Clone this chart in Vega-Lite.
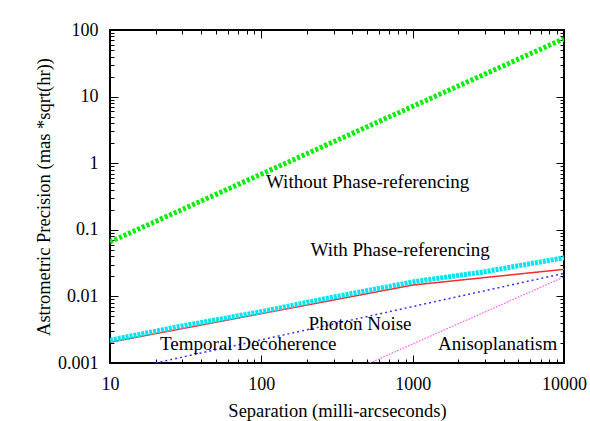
{
  "$schema": "https://vega.github.io/schema/vega-lite/v6.json",
  "width": 454,
  "height": 333,
  "autosize": {"type": "none"},
  "padding": {"left": 110, "top": 30, "right": 26, "bottom": 58},
  "background": "white",
  "config": {
    "view": {"stroke": "black", "strokeWidth": 2},
    "font": "Liberation Serif",
    "axis": {
      "domain": false,
      "grid": false,
      "labelFlush": false,
      "tickColor": "black",
      "tickWidth": 1,
      "labelFont": "Liberation Serif",
      "labelFontSize": 18,
      "labelColor": "black",
      "titleFont": "Liberation Serif",
      "titleFontSize": 18.5,
      "titleFontWeight": "normal",
      "titleColor": "black"
    }
  },
  "datasets": {
    "lines": [
      {"series": "Without", "x": 10, "y": 0.066},
      {"series": "Without", "x": 10000, "y": 74},
      {"series": "Temporal", "x": 10, "y": 0.00205},
      {"series": "Temporal", "x": 1000, "y": 0.0148},
      {"series": "Temporal", "x": 10000, "y": 0.0255},
      {"series": "Photon", "x": 20, "y": 0.001},
      {"series": "Photon", "x": 10000, "y": 0.0222},
      {"series": "Aniso", "x": 520, "y": 0.001},
      {"series": "Aniso", "x": 10000, "y": 0.0196},
      {"series": "With", "x": 10, "y": 0.0022},
      {"series": "With", "x": 30, "y": 0.0036},
      {"series": "With", "x": 100, "y": 0.0059},
      {"series": "With", "x": 300, "y": 0.0098},
      {"series": "With", "x": 1000, "y": 0.0165},
      {"series": "With", "x": 3000, "y": 0.0235},
      {"series": "With", "x": 10000, "y": 0.038}
    ],
    "labels": [
      {"text": "Without Phase-referencing", "x": 504, "y": 0.52},
      {"text": "With Phase-referencing", "x": 826, "y": 0.05},
      {"text": "Photon Noise", "x": 449, "y": 0.0039},
      {"text": "Temporal Decoherence", "x": 82, "y": 0.00193},
      {"text": "Anisoplanatism", "x": 3640, "y": 0.00193}
    ]
  },
  "layer": [
    {
      "data": {"name": "lines"},
      "mark": {"type": "line", "clip": true},
      "encoding": {
        "x": {
          "field": "x", "type": "quantitative",
          "scale": {"type": "log", "domain": [10, 10000]},
          "axis": {
            "values": [10,20,30,40,50,60,70,80,90,100,200,300,400,500,600,700,800,900,1000,2000,3000,4000,5000,6000,7000,8000,9000,10000],
            "labelExpr": "abs(log(datum.value)/LN10 - round(log(datum.value)/LN10)) < 0.000001 ? format(datum.value, '~g') : ''",
            "tickSize": {"condition": {"test": "abs(log(datum.value)/LN10 - round(log(datum.value)/LN10)) < 0.000001", "value": -8}, "value": -4},
            "labelPadding": 20,
            "title": "Separation (milli-arcseconds)",
            "titlePadding": 8
          }
        },
        "y": {
          "field": "y", "type": "quantitative",
          "scale": {"type": "log", "domain": [0.001, 100]},
          "axis": {
            "values": [0.001,0.002,0.003,0.004,0.005,0.006,0.007,0.008,0.009,0.01,0.02,0.03,0.04,0.05,0.06,0.07,0.08,0.09,0.1,0.2,0.3,0.4,0.5,0.6,0.7,0.8,0.9,1,2,3,4,5,6,7,8,9,10,20,30,40,50,60,70,80,90,100],
            "labelExpr": "abs(log(datum.value)/LN10 - round(log(datum.value)/LN10)) < 0.000001 ? format(datum.value, '~g') : ''",
            "tickSize": {"condition": {"test": "abs(log(datum.value)/LN10 - round(log(datum.value)/LN10)) < 0.000001", "value": -8}, "value": -4},
            "labelPadding": 20,
            "title": "Astrometric Precision (mas *sqrt(hr))",
            "titlePadding": 4
          }
        },
        "color": {
          "field": "series", "type": "nominal", "legend": null,
          "scale": {"domain": ["Without", "Temporal", "Photon", "Aniso", "With"], "range": ["#00ee00", "#ff2a2a", "#3333ff", "#ff55ff", "#00e5f0"]}
        },
        "strokeWidth": {
          "field": "series", "type": "nominal", "legend": null,
          "scale": {"type": "ordinal", "domain": ["Without", "Temporal", "Photon", "Aniso", "With"], "range": [5, 1.5, 1.5, 1.2, 5]}
        },
        "strokeDash": {
          "field": "series", "type": "nominal", "legend": null,
          "scale": {"type": "ordinal", "domain": ["Without", "Temporal", "Photon", "Aniso", "With"], "range": [[3, 2], [1, 0], [2, 3], [1.5, 1.5], [3, 1]]}
        }
      }
    },
    {
      "data": {"name": "labels"},
      "mark": {"type": "text", "font": "Liberation Serif", "fontSize": 19, "color": "black", "align": "center", "baseline": "middle"},
      "encoding": {
        "text": {"field": "text"},
        "x": {
          "field": "x", "type": "quantitative",
          "scale": {"type": "log", "domain": [10, 10000]},
          "axis": {
            "orient": "top",
            "values": [10,20,30,40,50,60,70,80,90,100,200,300,400,500,600,700,800,900,1000,2000,3000,4000,5000,6000,7000,8000,9000,10000],
            "labels": false, "title": null,
            "tickSize": {"condition": {"test": "abs(log(datum.value)/LN10 - round(log(datum.value)/LN10)) < 0.000001", "value": -8}, "value": -4}
          }
        },
        "y": {
          "field": "y", "type": "quantitative",
          "scale": {"type": "log", "domain": [0.001, 100]},
          "axis": {
            "orient": "right",
            "values": [0.001,0.002,0.003,0.004,0.005,0.006,0.007,0.008,0.009,0.01,0.02,0.03,0.04,0.05,0.06,0.07,0.08,0.09,0.1,0.2,0.3,0.4,0.5,0.6,0.7,0.8,0.9,1,2,3,4,5,6,7,8,9,10,20,30,40,50,60,70,80,90,100],
            "labels": false, "title": null,
            "tickSize": {"condition": {"test": "abs(log(datum.value)/LN10 - round(log(datum.value)/LN10)) < 0.000001", "value": -8}, "value": -4}
          }
        }
      }
    }
  ],
  "resolve": {"axis": {"x": "independent", "y": "independent"}}
}
